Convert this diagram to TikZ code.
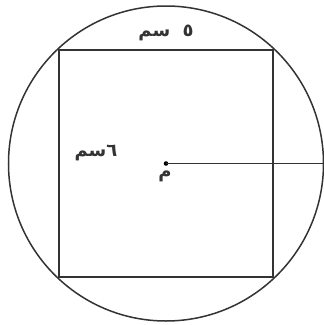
\documentclass[tikz,border=0pt]{standalone}
\usepackage{fontspec}
\newfontfamily\arabicfont[Script=Arabic]{DejaVu Sans}
\TeXXeTstate=1
\begin{document}
\begin{tikzpicture}[x=1pt,y=-1pt,
  lbl/.style={font=\arabicfont\bfseries\fontsize{18}{20}\selectfont, inner sep=0pt, text=black!80},
  edge/.style={line width=1.8pt, draw=black!80}]
\useasboundingbox (0,0) rectangle (324,325);
\coordinate (O) at (166,163.5);
\draw[line width=1.5pt, draw=black!80] (O) circle[radius=157.5];
\coordinate (A) at (59,50);
\coordinate (B) at (273,50);
\coordinate (C) at (273,277);
\coordinate (D) at (59,277);
\draw[edge] (A) -- (B) -- (C) -- (D) -- cycle;
\coordinate (E) at (323.5,163.5);
\fill[black] (O) circle[radius=2.3];
\draw[edge] (O) -- (E);
\node[lbl] (top) at (166,33) {\beginR ٥\hspace{6pt} سم\endR};
\node[lbl] (left) at (96,153) {\beginR ٦سم\endR};
\node[lbl] (m) at (165,176) {\beginR م\endR};
\end{tikzpicture}
\end{document}
